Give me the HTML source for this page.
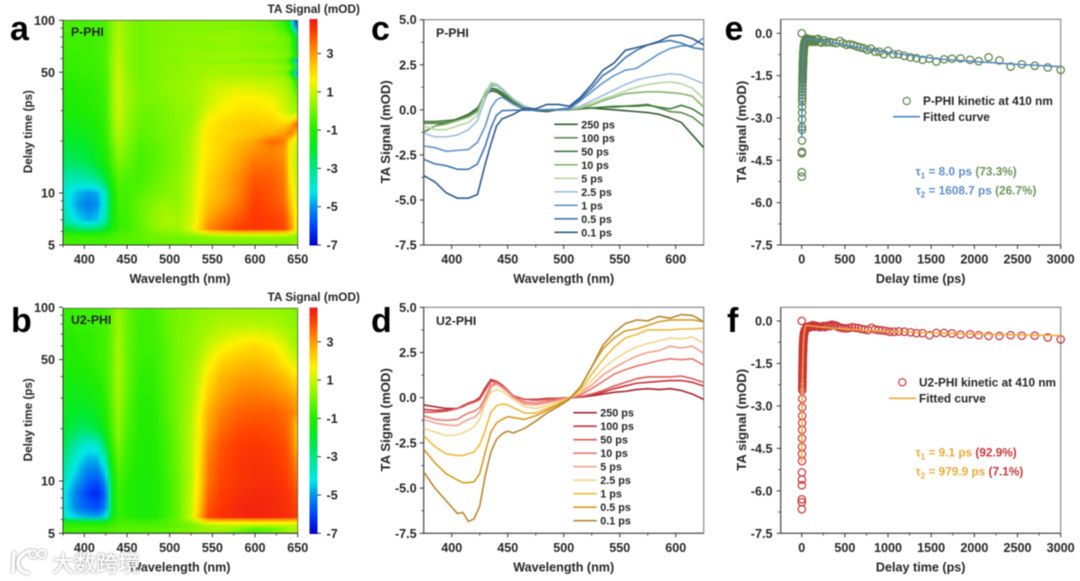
<!DOCTYPE html>
<html lang="en">
<head>
<meta charset="utf-8">
<title>Transient absorption of P-PHI and U2-PHI</title>
<style>
html,body{margin:0;padding:0;background:#fff;width:1080px;height:581px;overflow:hidden}
svg{display:block;filter:blur(.45px)}
text{font-family:"Liberation Sans","Noto Sans CJK SC",sans-serif;font-weight:700;fill:#262626}
.panel-letter{font-size:34px;fill:#000}
.title{font-size:12.6px}
.cb-title{font-size:11.8px}
.tick{font-size:12.6px}
.legend{font-size:10.8px}
.mark-label{font-size:12.3px}
.kin{font-size:11.8px}
.tau{font-size:11.8px}
.wm{font-family:"Noto Sans CJK SC","WenQuanYi Zen Hei",sans-serif;font-size:22px;font-weight:500;fill:#fff}
</style>
</head>
<body>
<svg id="figure" xmlns="http://www.w3.org/2000/svg" width="1080" height="581" viewBox="0 0 1080 581">
  <defs>
    <clipPath id="clip-a"><rect x="63" y="20.3" width="234.7" height="224.7"/></clipPath>
    <clipPath id="clip-b"><rect x="63" y="308.3" width="234.7" height="225"/></clipPath>
    <clipPath id="clip-c"><rect x="423.7" y="19.7" width="280" height="225.3"/></clipPath>
    <clipPath id="clip-d"><rect x="423.7" y="307.3" width="280" height="226"/></clipPath>
  </defs>
  <text class="panel-letter" x="10" y="40">a</text>
  <text class="panel-letter" x="11" y="332">b</text>
  <text class="panel-letter" x="371" y="40">c</text>
  <text class="panel-letter" x="371" y="332">d</text>
  <text class="panel-letter" x="724.5" y="40">e</text>
  <text class="panel-letter" x="727" y="332">f</text>

  <g id="panel-a"></g>
  <g id="panel-b"></g>
  <g id="panel-c"></g>
  <g id="panel-d"></g>
  <g id="panel-e"></g>
  <g id="panel-f"></g>

  <text class="cb-title" x="267.5" y="13">TA Signal (mOD)</text>
  <text class="cb-title" x="267.5" y="301">TA Signal (mOD)</text>
  <text class="mark-label" x="71" y="36">P-PHI</text>
  <text class="mark-label" x="71" y="324">U2-PHI</text>
  <text class="mark-label" x="436" y="37">P-PHI</text>
  <text class="mark-label" x="436" y="325">U2-PHI</text>

  <g>
    <circle cx="906.7" cy="101" r="3.6" fill="none" stroke="#5f8a50" stroke-width="1.2"/>
    <text class="kin" x="923" y="105">P-PHI kinetic at 410 nm</text>
    <line x1="893" y1="116.7" x2="920" y2="116.7" stroke="#4f85c0" stroke-width="1.6"/>
    <text class="kin" x="923" y="121">Fitted curve</text>
    <text class="tau" x="915.5" y="175.5"><tspan style="fill:#5f8fc6">τ</tspan><tspan style="fill:#5f8fc6;font-size:8px" dy="3">1</tspan><tspan style="fill:#5f8fc6" dy="-3"> = 8.0 ps </tspan><tspan style="fill:#6f9358">(73.3%)</tspan></text>
    <text class="tau" x="915.5" y="194.5"><tspan style="fill:#5f8fc6">τ</tspan><tspan style="fill:#5f8fc6;font-size:8px" dy="3">2</tspan><tspan style="fill:#5f8fc6" dy="-3"> = 1608.7 ps </tspan><tspan style="fill:#6f9358">(26.7%)</tspan></text>
  </g>
  <g>
    <circle cx="902.3" cy="382.3" r="3.6" fill="none" stroke="#c8363a" stroke-width="1.2"/>
    <text class="kin" x="919" y="386.3">U2-PHI kinetic at 410 nm</text>
    <line x1="889" y1="398.3" x2="916" y2="398.3" stroke="#f0a93a" stroke-width="1.6"/>
    <text class="kin" x="919" y="402.3">Fitted curve</text>
    <text class="tau" x="915.5" y="456.5"><tspan style="fill:#e8a93a">τ</tspan><tspan style="fill:#e8a93a;font-size:8px" dy="3">1</tspan><tspan style="fill:#e8a93a" dy="-3"> = 9.1 ps </tspan><tspan style="fill:#c8363a">(92.9%)</tspan></text>
    <text class="tau" x="915.5" y="475.5"><tspan style="fill:#e8a93a">τ</tspan><tspan style="fill:#e8a93a;font-size:8px" dy="3">2</tspan><tspan style="fill:#e8a93a" dy="-3"> = 979.9 ps </tspan><tspan style="fill:#c8363a">(7.1%)</tspan></text>
  </g>

  <g style="filter:drop-shadow(0 0 1.2px rgba(110,110,110,.85))">
    <g fill="none" stroke="#fff" stroke-width="3.2" stroke-linecap="round">
      <path d="M14 553 L13 571"/>
      <path d="M29 551 C20 555 17 560 18 565 C19 569 22 572 28 573"/>
      <circle cx="33" cy="554" r="3.8" stroke-width="2"/>
      <circle cx="42" cy="554" r="3.8" stroke-width="2"/>
    </g>
    <text class="wm" x="52" y="571.5" textLength="88" lengthAdjust="spacingAndGlyphs">大数跨境</text>
  </g>
</svg>

<script>
/* ---------- Heatmap axes / colour bar data ---------- */
const mapWavelengths=[375,385,395,405,415,425,432,440,450,465,480,495,510,525,535,545,560,580,600,620,635,642,650];
const mapWavelengthTicks=[400,450,500,550,600,650];
const mapWavelengthMinorTicks=[375,425,475,525,575,625];
const delayTicks=[5,10,50,100];
const delayMinorTicks=[6,7,8,9,20,30,40,60,70,80,90];
const colorbarTicks=[3,1,-1,-3,-5,-7];
const colorValues=[-7,-6,-5,-4.2,-3.2,-2,-1,-.4,.3,1,1.7,2.4,3,3.7,4.2,4.7];
const colorStops=['#0000c8','#0040ff','#0090ec','#00e8e8','#00e69a','#00ea2c','#22ec00','#4cf200','#8cf600','#c4f600','#fff200','#ffc800','#ff9c00','#ff6400','#ff3c00','#f01c14'];

/* ---------- P-PHI heatmap values (mOD) ---------- */
const pPhiDelays=[100,90,80,70,62,58,54,50,45,40,35,30,27,25,22,20,18,15,12,10,8.5,7,6.2,5.9,5.6,5];
const pPhiValues=[
[-.5,-.5,-.5,-.5,-.5,-.4,.2,.6,.3,0,.1,.2,.2,.2,.2,.2,.2,.2,.1,-.1,-.8,-3,-7],
[-.5,-.5,-.5,-.5,-.5,-.4,.2,.7,.3,0,.1,.2,.2,.2,.2,.2,.2,.2,.1,0,-.5,-1.6,-6],
[-.6,-.6,-.6,-.6,-.5,-.4,.2,.8,.3,0,.1,.2,.3,.3,.3,.4,.4,.4,.3,.3,0,-.3,-2.5],
[-.6,-.6,-.6,-.6,-.5,-.4,.2,.8,.3,0,.1,.2,.2,.3,.3,.2,.3,.3,.2,.1,0,-.3,-2.5],
[-.7,-.7,-.7,-.6,-.5,-.4,.3,.9,.3,0,.1,.3,.3,.4,.4,.5,.5,.5,.5,.4,.2,0,-1.5],
[-.7,-.7,-.7,-.6,-.6,-.4,.3,.9,.3,0,.1,.2,.2,.3,.3,.3,.3,.3,.2,.1,-.1,-.8,-6.5],
[-.7,-.7,-.7,-.7,-.6,-.4,.3,1,.3,0,.1,.3,.3,.5,.5,.6,.6,.6,.6,.5,.3,0,-2],
[-.8,-.8,-.7,-.7,-.6,-.5,.3,1,.4,0,.1,.2,.3,.4,.5,.5,.6,.6,.5,.4,.1,-.8,-6.5],
[-.9,-.9,-.8,-.8,-.7,-.5,.3,1.1,.4,0,.1,.3,.4,.5,.6,.8,.9,.9,.9,.8,.6,.2,-1.5],
[-1,-1,-.9,-.9,-.8,-.5,.3,1.1,.5,.1,.1,.3,.4,.5,.7,.9,1.2,1.4,1.3,1.1,.8,.4,-.6],
[-1.1,-1.1,-1,-.9,-.8,-.6,.3,1.1,.5,.1,.1,.2,.4,.5,.7,1,1.4,1.7,1.7,1.5,1,.6,.1],
[-1.2,-1.2,-1.1,-1,-.9,-.6,.2,1,.5,0,0,.1,.3,.4,.8,1.3,1.7,1.9,2,1.8,1.2,.7,.5],
[-1.3,-1.3,-1.2,-1.1,-1,-.7,.2,1,.4,-.1,-.1,.1,.3,.4,.9,1.6,1.9,2.1,2.2,2.1,1.7,1.4,2.4],
[-1.5,-1.5,-1.4,-1.3,-1.1,-.7,.1,.9,.4,-.1,-.1,.1,.2,.5,1.1,1.8,2.1,2.3,2.4,2.3,2.2,2.7,4.1],
[-1.7,-1.7,-1.6,-1.5,-1.2,-.8,0,.7,.3,-.2,-.1,.1,.2,.6,1.3,1.9,2.1,2.3,2.5,2.7,3.1,3.6,2],
[-2,-2,-1.9,-1.7,-1.3,-.9,-.1,.6,.2,-.3,-.2,0,.2,.7,1.4,1.9,2.2,2.5,2.9,3.7,3.4,1.6,1],
[-2.2,-2.2,-2.1,-1.9,-1.5,-1,-.3,.4,.1,-.4,-.3,0,.2,.7,1.4,1.9,2.2,2.7,3.1,3.3,3,1.5,1],
[-2.6,-2.6,-2.5,-2.3,-1.8,-1.2,-.5,.1,-.1,-.5,-.3,0,.2,.8,1.5,2,2.4,2.9,3.5,3.5,3.2,1.4,.9],
[-3.4,-3.5,-3.5,-3.4,-3,-2.2,-1,-.3,-.4,-.5,-.2,.1,.3,.9,1.6,2.2,2.6,3.2,3.9,3.8,3.4,1.6,1],
[-3.8,-4.3,-4.7,-4.9,-4.8,-3.6,-1.6,-.5,-.5,-.3,0,.2,.3,1,1.7,2.3,2.7,3.3,4.1,3.9,3.5,2,1.2],
[-3.6,-4.4,-5,-5.2,-5,-3.8,-1.6,-.6,-.5,-.1,.2,.5,.4,1,1.8,2.5,2.9,3.5,4.2,4,3.7,2.4,1.2],
[-3.1,-3.9,-4.4,-4.7,-4.5,-3.4,-1.5,-.7,-.6,-.1,.3,.7,.6,1.1,2,2.9,3.4,3.9,4.3,4.2,4,3,1.2],
[-2,-2.4,-2.7,-2.9,-2.7,-2.1,-1.2,-.7,-.6,-.2,.2,.5,.5,1.2,2.2,3.2,3.7,4.2,4.3,4.2,4.1,3.2,1.2],
[-1,-1.2,-1.3,-1.4,-1.3,-1,-.7,-.5,-.4,-.2,0,.2,.3,.7,1.1,1.8,2,2.2,2.2,2.2,2.1,1.6,.8],
[-.6,-.6,-.6,-.6,-.6,-.6,-.5,-.4,-.3,-.2,0,0,0,.1,.2,.2,.4,.4,.4,.4,.4,.3,.2],
[-.6,-.6,-.6,-.6,-.6,-.5,-.4,-.3,-.3,-.3,-.2,-.1,-.1,0,0,0,0,0,0,0,-.1,.1,.5]
];

/* ---------- U2-PHI heatmap values (mOD) ---------- */
const u2PhiDelays=[100,80,70,60,50,40,30,25,20,16,13,10,8.5,7,6.2,5.9,5.6,5.3,5];
const u2PhiValues=[
[-.7,-.7,-.6,-.6,-.6,-.5,-.1,.4,-.1,-.5,-.5,-.1,.1,.2,.3,.3,.4,.4,.4,.4,.3,.2,.1],
[-.8,-.8,-.7,-.7,-.6,-.5,-.1,.5,-.1,-.6,-.6,-.2,.1,.2,.4,.5,.7,.8,.8,.7,.5,.4,.2],
[-.9,-.9,-.8,-.8,-.7,-.5,-.1,.5,-.1,-.6,-.6,-.2,.1,.3,.5,.7,1,1.3,1.4,1.2,.8,.6,.4],
[-1,-1,-.9,-.8,-.7,-.5,-.1,.6,-.1,-.6,-.6,-.3,.1,.3,.6,1,1.5,1.9,2.1,1.8,1.3,.8,.5],
[-1,-1,-1,-.9,-.7,-.5,-.1,.6,-.1,-.7,-.7,-.3,.1,.4,.8,1.4,2.1,2.4,2.5,2.3,1.7,1.3,1],
[-1.2,-1.3,-1.2,-1.1,-.9,-.6,-.1,.6,-.1,-.8,-.8,-.3,.1,.5,1.1,1.9,2.6,2.9,3,2.8,2.5,2.2,2],
[-1.4,-1.6,-1.6,-1.5,-1.3,-.8,-.2,.5,-.2,-.9,-.9,-.4,.1,.6,1.4,2.4,3,3.4,3.5,3.4,3.2,3,2.8],
[-1.6,-1.9,-2,-1.9,-1.6,-1,-.3,.4,-.3,-1,-1,-.4,.1,.7,1.7,2.7,3.3,3.7,3.8,3.8,3.6,3.4,3],
[-1.9,-2.3,-2.5,-2.5,-2.2,-1.3,-.4,.3,-.4,-1,-1,-.5,.1,.8,1.8,2.9,3.6,4,4.1,4,3.8,3.4,2.2],
[-2.4,-3,-3.7,-4,-3.9,-2.4,-.8,.1,-.6,-1.1,-1.1,-.6,0,.8,1.9,3.2,3.9,4.2,4.3,4.2,4,3.6,2.5],
[-2.9,-3.6,-4.4,-4.8,-4.8,-3.7,-1.2,-.2,-.7,-1.1,-1.1,-.6,0,.8,2,3.4,4,4.3,4.4,4.3,4.1,3.8,3.1],
[-3.6,-4.4,-5,-5.6,-5.8,-5,-1.8,-.5,-.9,-1.2,-1.2,-.7,-.1,.8,2.1,3.5,4.1,4.3,4.4,4.4,4.3,4,3.6],
[-4,-4.8,-5.5,-6.1,-6.4,-5.5,-2,-.6,-1,-1.2,-1.2,-.7,-.1,.9,2.2,3.7,4.2,4.4,4.5,4.5,4.4,4.2,3.9],
[-3.9,-4.8,-5.3,-5.6,-5.8,-5.2,-2,-.7,-1,-1.2,-1.2,-.7,-.1,.9,2.4,3.9,4.3,4.5,4.6,4.5,4.4,4.3,4.1],
[-3.5,-4.2,-4.5,-4.6,-4.7,-4.3,-1.7,-.7,-.9,-1.1,-1.1,-.7,-.1,1,2.7,4.1,4.4,4.5,4.6,4.5,4.5,4.4,4.2],
[-1.6,-1.8,-1.9,-1.9,-1.9,-1.8,-.8,-.5,-.6,-.7,-.7,-.4,0,.6,1.5,2.2,2.4,2.4,2.5,2.4,2.4,2.3,2.3],
[-.8,-.8,-.8,-.8,-.8,-.8,-.6,-.5,-.4,-.4,-.4,-.4,-.2,0,.3,.7,.9,1,1,1,1,1,1],
[-.6,-.6,-.6,-.6,-.6,-.6,-.4,-.3,-.3,-.3,-.3,-.2,0,.2,.4,.5,.6,.3,-.3,-.2,.3,.6,.7],
[-.6,-.6,-.6,-.6,-.6,-.5,-.4,-.3,-.3,-.3,-.3,-.2,0,.1,.2,.3,.3,-.3,-.6,0,.3,.4,.4]
];

/* ---------- Spectra P-PHI ---------- */
const spectraTicksX=[400,450,500,550,600];
const spectraMinorX=[425,475,525,575];
const spectraTicksY=[5,2.5,0,-2.5,-5,-7.5];
const spectraTickLabels=['5.0','2.5','0.0','-2.5','-5.0','-7.5'];
const spectraMinorY=[3.75,1.25,-1.25,-3.75,-6.25];
const delayLabels=['250 ps','100 ps','50 ps','10 ps','5 ps','2.5 ps','1 ps','0.5 ps','0.1 ps'];
const pPhiColors=['#2f5c33','#5d8a50','#3f7a3a','#85b36b','#b5d6a0','#9dbde0','#5f93cc','#3f74ad','#2c5a8c'];
const u2PhiColors=['#a82230','#c8303a','#e0584f','#e8766c','#f2a08c','#f5d48a','#f0b93a','#d59a20','#b8862e'];
const pPhiWavelengths=[375,385,395,405,415,423,430,435,440,445,455,465,475,485,495,505,515,525,535,545,555,565,575,585,595,605,615,625];
const pPhi250=[-1.25,-.9,-.7,-.5,-.25,.1,.8,1.05,1,.8,.4,.1,-.05,-.1,0,0,.1,.1,.05,0,-.05,-.1,-.15,-.25,-.45,-.7,-1.4,-2.1];
const pPhi100=[-.75,-.75,-.7,-.55,-.35,0,.9,1.15,1.1,.9,.45,.12,0,0,0,.03,.08,.1,.15,.2,.2,.25,.3,.1,-.1,-.15,-.4,-.9];
const pPhi50=[-.65,-.65,-.6,-.55,-.3,.05,.95,1.2,1.15,.95,.5,.15,0,0,0,0,.05,.1,.15,.15,.2,.2,.25,.15,.05,.25,.05,-.35];
const pPhi10=[-1.2,-.9,-.8,-.6,-.4,-.1,1,1.4,1.35,1.1,.55,.15,0,0,0,.02,.1,.25,.5,.7,.9,.95,1,1,.95,.9,.75,.15];
const pPhi5=[-.9,-1.1,-1.1,-.9,-.7,-.3,.9,1.5,1.45,1.2,.6,.2,0,0,0,.05,.15,.35,.6,.8,1.05,1.25,1.4,1.5,1.55,1.45,1.2,.6];
const pPhi2p5=[-1.3,-1.5,-1.5,-1.4,-1.1,-.6,.6,1.3,1.35,1.15,.6,.2,0,0,0,.05,.2,.5,.8,1.1,1.4,1.65,1.8,1.9,2,1.95,1.7,1.45];
const pPhi1=[-2,-2.1,-2.3,-2.25,-2.2,-1.8,-.9,.1,.55,.7,.3,0,-.02,0,0,.05,.5,1,1.5,1.9,2.2,2.3,2.7,3.1,3.4,3.55,3.55,4];
const pPhi0p5=[-2.75,-3,-3.1,-3.3,-3.3,-3,-2,-1,-.3,-.05,-.02,-.02,-.02,0,.02,.1,.6,1.2,1.9,2.3,2.9,3.3,3.6,3.75,3.85,3.7,3.45,3.35];
const pPhi0p1=[-3.65,-4,-4.6,-4.9,-4.9,-4.7,-3,-1.9,-.9,-.5,-.25,.1,.05,.3,.3,.2,.7,1.4,2.2,2.6,3.3,3.45,3.6,3.8,4.1,4.15,3.95,3.6];

/* ---------- Spectra U2-PHI ---------- */
const u2PhiWavelengths=[375,385,395,405,410,415,420,425,430,435,440,445,450,455,465,475,485,495,505,515,525,535,545,555,565,575,585,595,605,615,625];
const u2Phi250=[-.4,-.5,-.6,-.6,-.45,-.3,-.2,0,.55,1,.9,.7,.4,.1,-.1,-.1,-.05,-.03,0,.03,.1,.2,.3,.35,.45,.5,.45,.5,.4,.2,-.1];
const u2Phi100=[-.65,-.7,-.7,-.6,-.45,-.3,-.2,-.05,.5,.95,.9,.7,.4,.1,-.1,-.1,-.05,-.03,0,.05,.15,.3,.5,.65,.8,.85,.9,.95,.95,.85,.65];
const u2Phi50=[-.8,-.8,-.75,-.6,-.5,-.35,-.25,-.1,.4,.9,.85,.65,.35,.1,-.1,-.15,-.1,-.05,0,.05,.2,.4,.65,.85,1.05,1.15,1.15,1.15,1.2,1.05,.85];
const u2Phi10=[-1,-1.2,-1.25,-1.2,-1,-.85,-.75,-.55,0,.7,.8,.6,.35,.05,-.25,-.3,-.2,-.1,0,.15,.5,.9,1.3,1.55,1.75,1.9,2.05,2.15,2.1,2.15,1.8];
const u2Phi5=[-1.2,-1.4,-1.5,-1.55,-1.35,-1.2,-1.1,-.8,-.2,.55,.75,.55,.3,0,-.35,-.4,-.3,-.15,0,.25,.7,1.25,1.65,2,2.3,2.5,2.6,2.85,2.75,2.85,2.45];
const u2Phi2p5=[-1.7,-1.9,-2.1,-2.05,-1.95,-1.8,-1.6,-1.2,-.3,.3,.45,.35,.15,-.1,-.5,-.6,-.45,-.25,-.03,.3,.95,1.6,2.1,2.5,2.8,3,3.15,3.3,3.25,3.35,3];
const u2Phi1=[-2.1,-2.7,-3.1,-3.2,-3.2,-3.1,-3,-2.6,-1.8,-.8,-.45,-.35,-.4,-.55,-.85,-.85,-.6,-.35,-.05,.45,1.3,2.1,2.8,3.3,3.5,3.75,3.75,3.75,3.8,3.8,3.85];
const u2Phi0p5=[-2.85,-3.6,-4.2,-4.55,-4.7,-4.7,-4.65,-4.2,-3,-1.9,-1.4,-1.2,-1.05,-1.1,-1.2,-1,-.7,-.4,-.05,.6,1.7,2.7,3.3,3.7,3.8,4,4.2,4.3,4.3,4.3,4.2];
const u2Phi0p1=[-4.1,-5,-5.7,-6.4,-6.35,-6.85,-6.7,-6,-4.3,-3,-2.3,-2,-1.85,-1.95,-1.7,-1.3,-.85,-.5,-.1,.6,1.7,2.9,3.6,4.1,4.3,4.25,4.5,4.4,4.6,4.55,4.2];

/* ---------- Kinetics ---------- */
const kineticTicksX=[0,500,1000,1500,2000,2500,3000];
const kineticMinorX=[250,750,1250,1750,2250,2750];
const kineticTicksY=[0,-1.5,-3,-4.5,-6,-7.5];
const kineticTickLabels=['0.0','-1.5','-3.0','-4.5','-6.0','-7.5'];
const kineticMinorY=[-.75,-2.25,-3.75,-5.25,-6.75];
const pPhiTimes=[0,1,1.5,2,2.5,3,3.5,4,4.5,5,5.5,6,6.5,7,7.5,8,8.5,9,9.5,10,11,12,13,14,15,16,17,18,19,20,22,24,26,28,30,33,36,40,45,50,55,60,65,70,80,90,100,110,120,130,145,160,175,190,210,230,260,290,320,360,400,440,480,520,560,600,640,680,720,760,800,850,900,950,1000,1060,1120,1190,1260,1330,1400,1480,1560,1650,1740,1840,1950,2050,2165,2290,2420,2550,2700,2850,3000];
const pPhiSignal=[0,-5.08,-4.92,-4.25,-4.2,-3.8,-3.42,-3.32,-3.05,-2.82,-2.6,-2.42,-2.3,-2.18,-2.08,-1.98,-1.88,-1.78,-1.7,-1.62,-1.5,-1.38,-1.28,-1.18,-1.08,-1,-.92,-.85,-.79,-.73,-.63,-.55,-.48,-.42,-.38,-.33,-.3,-.26,-.22,-.2,-.25,-.18,-.24,-.2,-.3,-.24,-.22,-.28,-.3,-.22,-.28,-.3,-.22,-.2,-.3,-.33,-.25,-.32,-.3,-.33,-.35,-.27,-.35,-.41,-.39,-.42,-.47,-.5,-.53,-.59,-.54,-.65,-.65,-.74,-.62,-.74,-.74,-.8,-.85,-.88,-.94,-.9,-1,-.92,-.9,-.89,-.94,-.99,-.85,-.96,-1.18,-1.1,-1.15,-1.21,-1.3];
const pPhiDenseTimes=[10.3,10.8,11.3,11.8,12.3,12.8,13.3,13.8,14.3,14.8,15.3,15.8,16.3,16.8,17.3,17.8,18.3,18.8,19.3,19.8,20.5,21,21.5,22.5,23,23.5,24.5,25,25.5,26.5,27,27.5,28.5,29,31,32,34,35,37,38];
const pPhiDenseSignal=[-1.58,-1.53,-1.46,-1.4,-1.34,-1.29,-1.24,-1.2,-1.15,-1.1,-1.06,-1.02,-.98,-.94,-.9,-.87,-.83,-.8,-.77,-.74,-.7,-.67,-.65,-.61,-.59,-.57,-.53,-.51,-.49,-.47,-.45,-.44,-.41,-.4,-.36,-.35,-.32,-.31,-.29,-.28];
const pPhiFitTimes=[0,1,2,3,4,6,8,10,12,15,20,25,30,40,50,70,100,300,500,750,1000,1250,1500,1750,2000,2500,3000];
const pPhiFitSignal=[-3.7,-3.4,-3.1,-2.85,-2.6,-2.15,-1.8,-1.5,-1.25,-.95,-.65,-.45,-.35,-.24,-.2,-.19,-.2,-.3,-.41,-.55,-.67,-.78,-.88,-.95,-1,-1.1,-1.18];
const u2PhiTimes=[0,1,1.3,1.6,2,2.3,2.6,3,3.3,3.6,4,4.4,4.8,5.2,5.6,6,6.4,6.8,7.2,7.6,8,8.5,9,9.5,10,11,12,13,14,15,16,17,18,19,20,22,24,26,28,30,33,36,39,42,46,50,54,58,62,66,70,75,80,85,90,95,100,110,120,130,140,150,165,180,195,210,230,250,270,290,310,330,350,370,390,410,430,460,490,520,550,585,620,655,690,730,770,810,850,890,930,975,1020,1070,1125,1190,1260,1330,1400,1480,1560,1650,1740,1840,1950,2050,2165,2290,2420,2550,2700,2850,3000];
const u2PhiSignal=[0,-6.65,-6.4,-6.3,-5.8,-5.6,-5.35,-4.95,-4.7,-4.45,-4.15,-3.85,-3.6,-3.35,-3.05,-2.75,-2.45,-2.3,-2.15,-2,-1.88,-1.76,-1.65,-1.55,-1.46,-1.32,-1.18,-1.06,-.96,-.88,-.8,-.74,-.69,-.65,-.62,-.56,-.5,-.46,-.42,-.4,-.36,-.33,-.32,-.3,-.28,-.27,-.24,-.25,-.22,-.24,-.2,-.24,-.2,-.22,-.2,-.22,-.18,-.2,-.15,-.2,-.15,-.2,-.18,-.18,-.2,-.22,-.2,-.18,-.22,-.17,-.16,-.18,-.13,-.15,-.16,-.18,-.22,-.24,-.26,-.26,-.25,-.22,-.24,-.25,-.28,-.3,-.32,-.24,-.3,-.32,-.33,-.35,-.38,-.38,-.37,-.38,-.4,-.43,-.43,-.5,-.42,-.42,-.44,-.48,-.47,-.5,-.53,-.53,-.5,-.52,-.52,-.58,-.65];
const u2PhiDenseTimes=[6.6,7,7.4,7.8,8.2,8.6,9,9.4,9.8,10.2,10.6,11,11.4,11.8,12.2,12.6,13,13.4,13.8,14.2,14.6,15,15.4,15.8,16.2,16.6,17,17.4,17.8,18.2,18.6,19,19.4,19.8,20.2,21,22,23,24,25,26,27,28,29,30,32,34,36,38,40];
const u2PhiDenseSignal=[-2.38,-2.3,-2.22,-2.14,-2.06,-1.98,-1.92,-1.86,-1.8,-1.74,-1.68,-1.62,-1.56,-1.5,-1.44,-1.39,-1.34,-1.29,-1.24,-1.19,-1.14,-1.1,-1.06,-1.02,-.98,-.94,-.91,-.88,-.85,-.82,-.79,-.76,-.73,-.71,-.69,-.65,-.61,-.58,-.55,-.52,-.5,-.48,-.46,-.44,-.42,-.4,-.38,-.36,-.34,-.33];
const u2PhiFitTimes=[0,1,2,3,4,6,8,10,12,15,20,25,30,40,50,70,100,300,600,1000,1500,2000,2500,3000];
const u2PhiFitSignal=[-5,-4.6,-4.2,-3.8,-3.4,-2.8,-2.3,-1.9,-1.6,-1.2,-.8,-.55,-.4,-.22,-.16,-.16,-.17,-.24,-.3,-.36,-.42,-.46,-.49,-.51];

/* ---------- Rendering ---------- */
const NS='http://www.w3.org/2000/svg';
function mk(tag,attrs,parent){
  const el=document.createElementNS(NS,tag);
  for(const k in attrs)el.setAttribute(k,attrs[k]);
  parent.appendChild(el);
  return el;
}
function tickMark(parent,x1,y1,x2,y2,w){
  const el=mk('line',{x1:x1,y1:y1,x2:x2,y2:y2,stroke:'#333','stroke-width':w},parent);
  
  
  return el;
}
function tickLabel(parent,x,y,anchor,str){
  const el=mk('text',{x:x,y:y,'text-anchor':anchor,'class':'tick'},parent);
  el.textContent=str;
  
  
  return el;
}
function axisTitle(parent,x,y,str,rotate,size){
  const el=mk('text',{x:x,y:y,'text-anchor':'middle','class':'title',style:'font-size:'+size+'px'},parent);
  if(rotate)el.setAttribute('transform','rotate(-90 '+x+' '+y+')');
  el.textContent=str;
  
  
  return el;
}
function hex(c){return [parseInt(c.slice(1,3),16),parseInt(c.slice(3,5),16),parseInt(c.slice(5,7),16)];}
function colorFor(v){
  const n=colorValues.length;
  if(v<=colorValues[0])return colorStops[0];
  if(v>=colorValues[n-1])return colorStops[n-1];
  let i=0;
  while(v>colorValues[i+1])i++;
  const t=(v-colorValues[i])/(colorValues[i+1]-colorValues[i]);
  const a=hex(colorStops[i]),b=hex(colorStops[i+1]);
  return 'rgb('+[0,1,2].map(j=>Math.round(a[j]+(b[j]-a[j])*t)).join(',')+')';
}
function sampleMap(delays,values,wl,d){
  let c=0;
  while(c<mapWavelengths.length-2&&wl>mapWavelengths[c+1])c++;
  let r=0;
  while(r<delays.length-2&&d<delays[r+1])r++;
  const tx=Math.min(1,Math.max(0,(wl-mapWavelengths[c])/(mapWavelengths[c+1]-mapWavelengths[c])));
  const ty=Math.min(1,Math.max(0,(Math.log(delays[r])-Math.log(d))/(Math.log(delays[r])-Math.log(delays[r+1]))));
  const top=values[r][c]*(1-tx)+values[r][c+1]*tx;
  const bot=values[r+1][c]*(1-tx)+values[r+1][c+1]*tx;
  return top*(1-ty)+bot*ty;
}
function drawHeatmap(host,clipId,delays,values,top,bottom,y10){
  const left=63,right=297.7;
  const xOf=w=>left+(w-375)*(right-left)/275;
  const wOf=x=>375+(x-left)*275/(right-left);
  const yOf=d=>y10-(bottom-y10)/Math.log10(2)*Math.log10(d/10);
  const dOf=y=>10*Math.pow(10,(y10-y)*Math.log10(2)/(bottom-y10));
  const clip=mk('g',{'clip-path':'url(#'+clipId+')'},host);
  const cells=mk('g',{style:'filter:blur(.9px)','shape-rendering':'crispEdges'},clip);
  
  
  const step=3;
  for(let y=top-6;y<bottom+6;y+=step){
    for(let x=left-6;x<right+6;x+=step){
      const v=sampleMap(delays,values,wOf(x+step/2),dOf(y+step/2));
      const cell=mk('rect',{x:x,y:y,width:step+.4,height:step+.4,fill:colorFor(v)},cells);
      
      
    }
  }
  const frame=mk('rect',{x:left,y:top,width:right-left,height:bottom-top,fill:'none',stroke:'#5a6a40','stroke-width':.9},host);
  
  
  mapWavelengthTicks.forEach(w=>{
    tickMark(host,xOf(w),bottom,xOf(w),bottom+4,1);
    tickLabel(host,xOf(w),bottom+18.5,'middle',String(w));
  });
  mapWavelengthMinorTicks.forEach(w=>tickMark(host,xOf(w),bottom,xOf(w),bottom+2.5,.8));
  delayTicks.forEach(d=>{
    tickMark(host,left-4,yOf(d),left,yOf(d),1);
    tickLabel(host,55,yOf(d)+4.5,'end',String(d));
  });
  delayMinorTicks.forEach(d=>tickMark(host,left-2.5,yOf(d),left,yOf(d),.8));
  const ax=mk('path',{d:'M'+left+' '+top+'V'+bottom+'H'+right,fill:'none',stroke:'#333','stroke-width':1},host);
  
  
  axisTitle(host,180,bottom+38,'Wavelength (nm)',false,12.6);
  axisTitle(host,32,(top+bottom)/2-1,'Delay time (ps)',true,11.7);
  /* colour bar */
  const vOf=v=>bottom-(v+7)*19.15;
  const bar=mk('g',{'shape-rendering':'crispEdges'},host);
  
  
  for(let v=-7;v<4.7;v+=.1){
    const seg=mk('rect',{x:309.5,y:vOf(v+.1),width:8,height:2.6,fill:colorFor(v+.05)},bar);
    
    
  }
  colorbarTicks.forEach(v=>{
    tickMark(host,317.5,vOf(v),321,vOf(v),1);
    tickLabel(host,326.5,vOf(v)+4.5,'start',String(v));
  });
}
function drawFrame(host,left,right,top,bottom,xOf,yOf,xT,xM,yT,yL,yM,labelRight,titleX,xTitle,yTitle){
  const box=mk('rect',{x:left,y:top,width:right-left,height:bottom-top,fill:'none',stroke:'#8a8a8a','stroke-width':1.2},host);
  
  
  const ax=mk('path',{d:'M'+left+' '+top+'V'+bottom+'H'+right,fill:'none',stroke:'#444','stroke-width':1},host);
  
  
  xT.forEach(v=>{
    tickMark(host,xOf(v),bottom,xOf(v),bottom+4,1);
    tickLabel(host,xOf(v),bottom+18.5,'middle',String(v));
  });
  xM.forEach(v=>tickMark(host,xOf(v),bottom,xOf(v),bottom+2.5,.8));
  yT.forEach((v,i)=>{
    tickMark(host,left-4,yOf(v),left,yOf(v),1);
    tickLabel(host,labelRight,yOf(v)+4.5,'end',yL[i]);
  });
  yM.forEach(v=>tickMark(host,left-2.5,yOf(v),left,yOf(v),.8));
  axisTitle(host,(left+right)/2,bottom+38,xTitle,false,12.6);
  axisTitle(host,titleX,(top+bottom)/2-0.5,yTitle,true,13.2);
}
function linePath(xs,ys,xOf,yOf){
  return xs.map((x,i)=>(i?'L':'M')+xOf(x).toFixed(2)+' '+yOf(ys[i]).toFixed(2)).join('');
}
function drawSpectra(host,clipId,top,bottom,wls,series,colors,legendX,legendY){
  const left=423.7,right=703.7;
  const xOf=w=>left+(w-375)*1.12;
  const yOf=v=>top+(5-v)*(bottom-top)/12.5;
  drawFrame(host,left,right,top,bottom,xOf,yOf,spectraTicksX,spectraMinorX,spectraTicksY,spectraTickLabels,spectraMinorY,416.7,390,'Wavelength (nm)','TA Signal (mOD)');
  const g=mk('g',{'clip-path':'url(#'+clipId+')'},host);
  series.forEach((vals,i)=>{
    const p=mk('path',{d:linePath(wls,vals,xOf,yOf),fill:'none',stroke:colors[i],'stroke-width':1.6,'stroke-linejoin':'round'},g);
    
    
    const ly=legendY+i*13.5;
    const l=mk('line',{x1:legendX,y1:ly,x2:legendX+23.5,y2:ly,stroke:colors[i],'stroke-width':1.6},host);
    
    
    const t=mk('text',{x:legendX+27,y:ly+4,'class':'legend'},host);
    t.textContent=delayLabels[i];
    
    
  });
}
function drawKinetics(host,top,y0,bottom,times,signal,denseTimes,denseSignal,fitTimes,fitSignal,ringColor,fitColor){
  const left=780.7,right=1060.7;
  const xOf=t=>801.7+t*0.08633;
  const yOf=v=>y0-v*(bottom-y0)/7.5;
  drawFrame(host,left,right,top,bottom,xOf,yOf,kineticTicksX,kineticMinorX,kineticTicksY,kineticTickLabels,kineticMinorY,772.5,746,'Delay time (ps)','TA signal (mOD)');
  const pts=mk('g',{},host);
  
  
  times.concat(denseTimes).forEach((t,i)=>{
    const v=signal.concat(denseSignal)[i];
    const c=mk('circle',{cx:xOf(t).toFixed(2),cy:yOf(v).toFixed(2),r:3.7,fill:'none',stroke:ringColor,'stroke-width':1.25},pts);
    
    
  });
  const f=mk('path',{d:linePath(fitTimes,fitSignal,xOf,yOf),fill:'none',stroke:fitColor,'stroke-width':1.5,'stroke-linejoin':'round'},host);
  
  
}
const byId=id=>document.getElementById(id);
drawHeatmap(byId('panel-a'),'clip-a',pPhiDelays,pPhiValues,20.3,245,193);
drawHeatmap(byId('panel-b'),'clip-b',u2PhiDelays,u2PhiValues,308.3,533.3,481);
drawSpectra(byId('panel-c'),'clip-c',19.7,245,pPhiWavelengths,[pPhi250,pPhi100,pPhi50,pPhi10,pPhi5,pPhi2p5,pPhi1,pPhi0p5,pPhi0p1],pPhiColors,554.3,124.3);
drawSpectra(byId('panel-d'),'clip-d',307.3,533.3,u2PhiWavelengths,[u2Phi250,u2Phi100,u2Phi50,u2Phi10,u2Phi5,u2Phi2p5,u2Phi1,u2Phi0p5,u2Phi0p1],u2PhiColors,573.3,412.7);
drawKinetics(byId('panel-e'),19.3,33.3,245,pPhiTimes,pPhiSignal,pPhiDenseTimes,pPhiDenseSignal,pPhiFitTimes,pPhiFitSignal,'#5a8448','#4f85c0');
drawKinetics(byId('panel-f'),307.3,321,533.3,u2PhiTimes,u2PhiSignal,u2PhiDenseTimes,u2PhiDenseSignal,u2PhiFitTimes,u2PhiFitSignal,'#c8363a','#f0a93a');
</script>
</body>
</html>
